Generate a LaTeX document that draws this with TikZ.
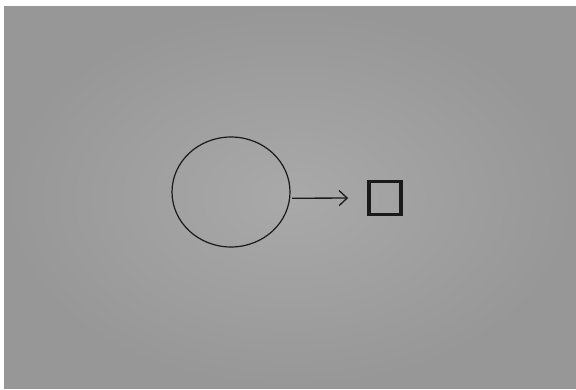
\documentclass[tikz,border=0pt]{standalone}
\usepackage{tikz}
\usetikzlibrary{arrows.meta,positioning,shapes.geometric}
\definecolor{paper}{HTML}{A9A9A9}
\definecolor{paperedge}{HTML}{979797}
\definecolor{pencil}{HTML}{1A1A1A}
\tikzset{
  >={Straight Barb[length=8pt,width=15pt]},
  blobshape/.style={draw=pencil,ellipse,line width=1.2pt,minimum width=118pt,minimum height=110pt,inner sep=0pt},
  boxshape/.style={draw=pencil,line width=3.8pt,minimum width=32pt,minimum height=33pt,inner sep=0pt},
  arr/.style={->,draw=pencil,line width=1.3pt},
}

\begin{document}
\begin{tikzpicture}[x=1pt,y=-1pt]
\useasboundingbox (0,0) rectangle (576,390);
\fill[white] (0,0) rectangle (576,390);
\shade[inner color=paper,outer color=paperedge] (4,7) rectangle (576,388);
\node[blobshape] (blob) at (231,192) {};
\node[boxshape] (box) at (385,198) {};
\draw[arr,shorten <=2pt,shorten >=19pt] (blob.-6) -- (box.west);
\end{tikzpicture}
\end{document}
